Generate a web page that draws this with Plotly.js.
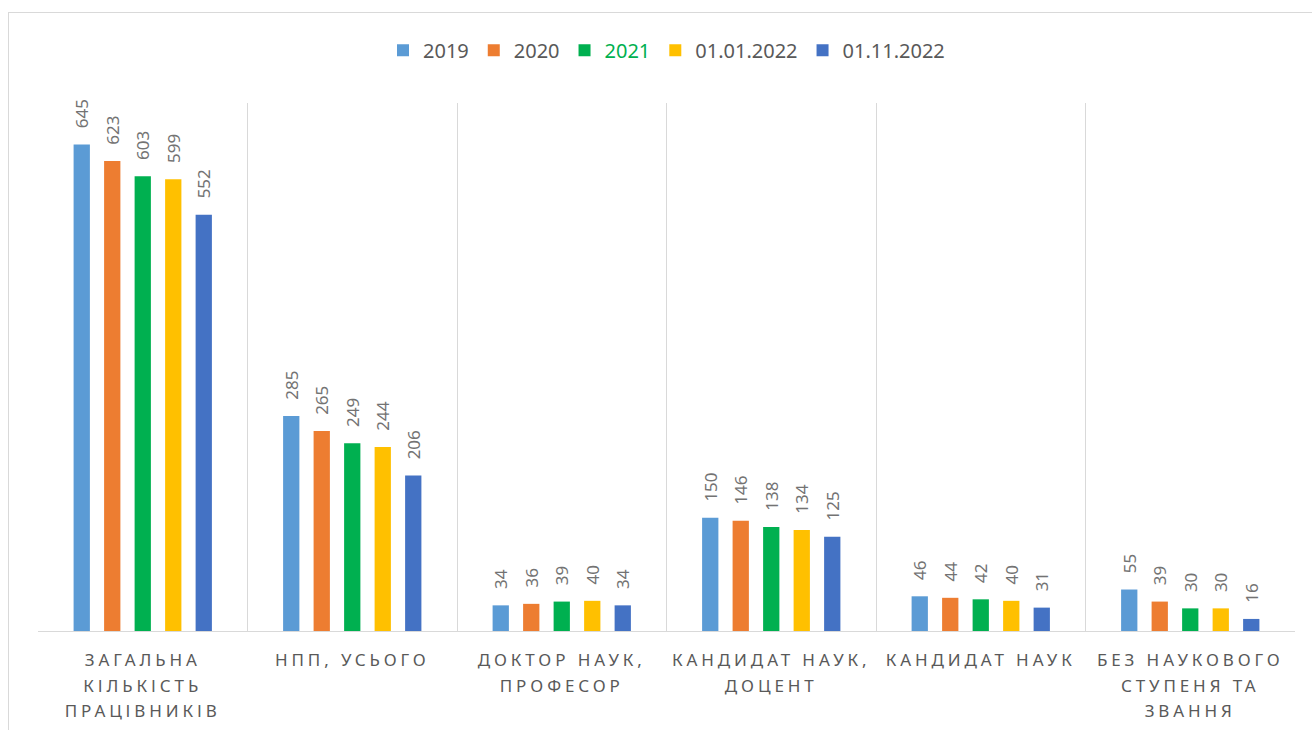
<!DOCTYPE html>
<html>
<head>
<meta charset="utf-8">
<script src="https://cdn.plot.ly/plotly-3.0.1.min.js"></script>
<style>
  html, body { margin: 0; padding: 0; background: #fff; }
  #wrap { position: relative; width: 1312px; height: 730px; overflow: hidden; }
  #chart { position: absolute; left: 0; top: 0; width: 1312px; height: 730px; }
  #frame { position: absolute; left: 8px; top: 12px; width: 1320px; height: 740px;
           border: 1px solid #d9d9d9; pointer-events: none; box-sizing: border-box; }
  .xtick text { letter-spacing: 3.9px; }
</style>
</head>
<body>
<div id="wrap">
  <div id="chart"></div>
  <div id="frame"></div>
</div>
<script>
const categories = [
  "ЗАГАЛЬНА<br>КІЛЬКІСТЬ<br>ПРАЦІВНИКІВ",
  "НПП, УСЬОГО",
  "ДОКТОР НАУК,<br>ПРОФЕСОР",
  "КАНДИДАТ НАУК,<br>ДОЦЕНТ",
  "КАНДИДАТ НАУК",
  "БЕЗ НАУКОВОГО<br>СТУПЕНЯ ТА<br>ЗВАННЯ"
];
const seriesNames = ["2019", "2020", "2021", "01.01.2022", "01.11.2022"];
const values2019 = [645, 285, 34, 150, 46, 55];
const values2020 = [623, 265, 36, 146, 44, 39];
const values2021 = [603, 249, 39, 138, 42, 30];
const values0101 = [599, 244, 40, 134, 40, 30];
const values0111 = [552, 206, 34, 125, 31, 16];

const seriesValues = [values2019, values2020, values2021, values0101, values0111];
const colors = ["#5b9bd5", "#ed7d31", "#00b050", "#ffc000", "#4472c4"];
const legendLabels = seriesNames.map((n, i) =>
  i === 2 ? '<span style="color:#00b050">' + n + '</span>' : n);

const labelFont = { family: "Noto Sans, sans-serif", size: 17, color: "#737373" };

const traces = seriesValues.map((vals, i) => ({
  type: "bar",
  name: legendLabels[i],
  x: categories,
  y: vals,
  marker: { color: colors[i] },
  text: vals.map(v => String(v)),
  texttemplate: "\u00a0\u00a0\u00a0%{text}",
  textposition: "outside",
  textangle: -90,
  constraintext: "none",
  cliponaxis: false,
  textfont: labelFont,
  outsidetextfont: labelFont,
  hoverinfo: "x+y"
}));

const layout = {
  width: 1312,
  height: 730,
  margin: { l: 38, r: 17, t: 103, b: 99 },
  paper_bgcolor: "#ffffff",
  plot_bgcolor: "#ffffff",
  barmode: "group",
  bargap: 0.272,
  bargroupgap: 0.466,
  font: { family: "Noto Sans, sans-serif", color: "#595959" },
  showlegend: true,
  legend: {
    orientation: "h",
    x: 0.5, xanchor: "center",
    y: 1.1, yanchor: "middle",
    font: { size: 20, color: "#595959" },
    itemwidth: 30,
    traceorder: "normal"
  },
  xaxis: {
    type: "category",
    tickson: "boundaries",
    showgrid: true,
    gridcolor: "#d9d9d9",
    gridwidth: 1,
    showline: true,
    linecolor: "#d9d9d9",
    linewidth: 1,
    ticks: "",
    ticklabelstandoff: 14,
    tickfont: { family: "Noto Sans, sans-serif", size: 17, color: "#595959" },
    fixedrange: true
  },
  yaxis: {
    range: [0, 700],
    showgrid: false,
    zeroline: false,
    showline: false,
    showticklabels: false,
    ticks: "",
    fixedrange: true
  }
};

Plotly.newPlot("chart", traces, layout, { displayModeBar: false, staticPlot: true }).then(() => {
  const factor = 25.5 / (17 * 1.3);
  document.querySelectorAll(".xtick text tspan.line").forEach(t => {
    const dy = t.getAttribute("dy");
    if (dy && dy.endsWith("em")) {
      const v = parseFloat(dy);
      if (v) t.setAttribute("dy", (v * factor).toFixed(3) + "em");
    }
  });
});
</script>
</body>
</html>
